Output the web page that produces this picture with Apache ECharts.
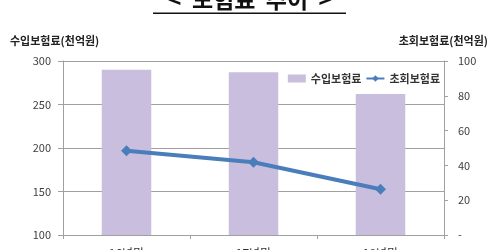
<!DOCTYPE html>
<html><head><meta charset="utf-8">
<script src="https://cdn.jsdelivr.net/npm/echarts@6/dist/echarts.min.js"></script>
<style>html,body{margin:0;padding:0;background:#fff}#c{width:500px;height:250px}</style>
</head><body><div id="c"></div>
<script>
var categories = ['16년말', '17년말', '18년말'];
var incomePremium = [290, 287, 262];
var initialPremium = [48.4, 41.8, 26.3];
var leftTicks = [100, 150, 200, 250, 300];
var rightTicks = [0, 20, 40, 60, 80, 100];

var F = '"Noto Sans CJK KR", sans-serif';
var chart = echarts.init(document.getElementById('c'));
chart.setOption({
  animation: false,
  backgroundColor: '#fff',
  graphic: [
    {type: 'text', left: 'center', top: -12, style: {text: '<  보험료  추이  >', font: 'bold 23px ' + F, fill: '#111'}},
    {type: 'rect', shape: {x: 153, y: 12.5, width: 193, height: 1.5}, style: {fill: '#111'}},
    {type: 'text', left: 10, top: 35, style: {text: '수입보험료(천억원)', font: 'bold 11px ' + F, fill: '#222'}},
    {type: 'text', right: 12, top: 35, style: {text: '초회보험료(천억원)', font: 'bold 11px ' + F, fill: '#222'}}
  ],
  legend: {
    right: 55, top: 68, itemGap: 4, itemWidth: 18, itemHeight: 8,
    textStyle: {fontFamily: F, fontSize: 11, fontWeight: 'bold', color: '#333'},
    data: [
      {name: '수입보험료', icon: 'rect'},
      {name: '초회보험료'}
    ]
  },
  grid: {left: 63, right: 56, top: 61, bottom: 15, containLabel: false, outerBoundsMode: 'none'},
  xAxis: {
    type: 'category', data: categories,
    axisLine: {lineStyle: {color: '#a0a0a0'}},
    axisTick: {show: true, length: 4, lineStyle: {color: '#a0a0a0'}},
    axisLabel: {fontFamily: F, fontSize: 12, color: '#333', margin: 12}
  },
  yAxis: [
    {
      type: 'value', min: 100, max: 300, interval: 50,
      axisLine: {show: true, lineStyle: {color: '#a0a0a0'}},
      axisTick: {show: true, length: 5, lineStyle: {color: '#a0a0a0'}},
      axisLabel: {fontFamily: F, fontSize: 11, color: '#404040', margin: 12},
      splitLine: {lineStyle: {color: '#a0a0a0'}}
    },
    {
      type: 'value', min: 0, max: 100, interval: 20,
      axisLine: {show: true, lineStyle: {color: '#a0a0a0'}},
      axisTick: {show: true, length: 4, lineStyle: {color: '#a0a0a0'}},
      axisLabel: {fontFamily: F, fontSize: 11, color: '#404040', margin: 14,
        formatter: function (v) { return v === 0 ? '-' : v; }},
      splitLine: {show: false}
    }
  ],
  series: [
    {name: '수입보험료', type: 'bar', data: incomePremium, barWidth: '39%',
      itemStyle: {color: '#c9bedd'}},
    {name: '초회보험료', type: 'line', yAxisIndex: 1, data: initialPremium,
      symbol: 'diamond', symbolSize: 11,
      lineStyle: {color: '#4a7ebb', width: 4},
      itemStyle: {color: '#4a7ebb'}}
  ]
});
</script></body></html>
